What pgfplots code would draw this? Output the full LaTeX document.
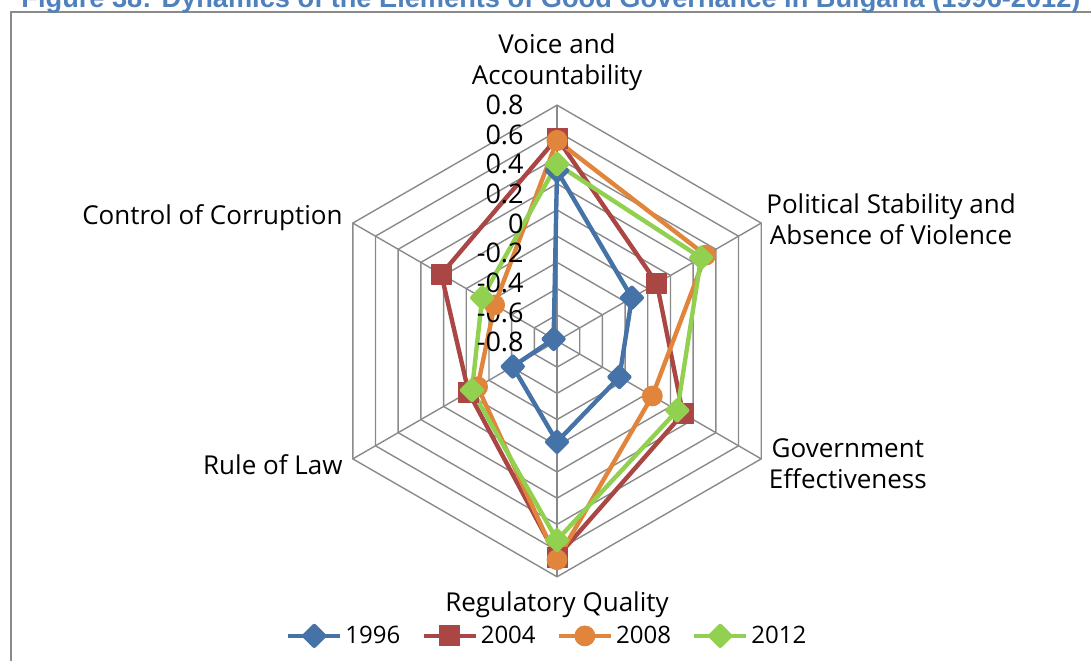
\documentclass[border=0pt]{standalone}
\usepackage{fontspec}
\usepackage{pgfplots}
\usepackage{pgfplotstable}
\pgfplotsset{compat=1.18}
\setmainfont{Open Sans}
\newfontfamily\titlefont{Liberation Sans}

\definecolor{cBlue}{HTML}{4572A7}
\definecolor{cRed}{HTML}{AA4643}
\definecolor{cOrange}{HTML}{E0853B}
\definecolor{cGreen}{HTML}{92D050}
\definecolor{gridc}{HTML}{8A8A8A}
\definecolor{titleblue}{HTML}{4F81BD}

\tikzset{
  ticklab/.style={anchor=east, inner sep=0pt, font=\fontsize{13.5}{15}\selectfont},
  catlab/.style={inner sep=0pt, align=center, font=\fontsize{13}{15.5}\selectfont},
}

% spoke angle (deg) and score; first row repeated to close the polygon
% order: Voice, Political Stability, Gov. Effectiveness, Regulatory, Rule of Law, Corruption
\pgfplotstableread{
a v
90 0.30
30 -0.34
-30 -0.45
-90 -0.23
-150 -0.61
150 -0.97
90 0.30
}\tabA
\pgfplotstableread{
a v
90 0.55
30 -0.12
-30 0.11
-90 0.65
-150 -0.22
150 0.02
90 0.55
}\tabB
\pgfplotstableread{
a v
90 0.53
30 0.31
-30 -0.16
-90 0.67
-150 -0.30
150 -0.45
90 0.53
}\tabC
\pgfplotstableread{
a v
90 0.35
30 0.27
-30 0.06
-90 0.52
-150 -0.25
150 -0.34
90 0.35
}\tabD

\begin{document}
\begin{tikzpicture}
\useasboundingbox (0,0) rectangle (545.5pt,330.5pt);
\draw[gridc, line width=0.8pt] (5.5pt,0pt) -- (5.5pt,324.5pt) -- (545.5pt,324.5pt);
\node[anchor=base, text=titleblue, inner sep=0pt,
      font=\titlefont\bfseries\fontsize{13.6}{15}\selectfont] at (275.5pt,327pt)
  {Figure 38: Dynamics of the Elements of Good Governance in Bulgaria (1996-2012)};

\begin{axis}[
    at={(0pt,0pt)}, anchor=south west,
    x=65.5pt, y=65.5pt,
    xmin=-4.252, xmax=4.076,
    ymin=-2.443, ymax=2.603,
    hide axis,
    clip=false,
    every axis plot/.append style={line width=2.2pt, line join=round,
      mark options={solid, line width=0.4pt}},
    legend columns=4,
    legend style={draw=none, fill=none, at={(0.502,0.038)}, anchor=center,
      font=\fontsize{12}{14}\selectfont, inner sep=0pt,
      nodes={inner sep=1.5pt},
      /tikz/every even column/.append style={column sep=9pt}},
    legend image code/.code={
      \draw[mark repeat=2, mark phase=2] plot coordinates {(0pt,0pt) (13pt,0pt) (26pt,0pt)};
    },
  ]

  % hexagonal grid, rings for -0.8 ... 0.8 (radius = value + 1)
  \pgfplotsinvokeforeach{0.2,0.4,0.6,0.8,1.0,1.2,1.4,1.6,1.8}{
    \draw[gridc, line width=0.7pt]
      (axis cs:0,#1) -- (axis cs:{#1*cos(30)},{#1*sin(30)})
      -- (axis cs:{#1*cos(30)},{-#1*sin(30)}) -- (axis cs:0,-#1)
      -- (axis cs:{-#1*cos(30)},{-#1*sin(30)}) -- (axis cs:{-#1*cos(30)},{#1*sin(30)}) -- cycle;
  }
  \pgfplotsinvokeforeach{90,30,-30,-90,-150,150}{
    \draw[gridc, line width=0.7pt] (axis cs:0,0) -- (axis cs:{1.8*cos(#1)},{1.8*sin(#1)});
  }

  \addplot[cBlue, mark=square*, mark size=3.5pt, mark options={rotate=45}]
    table[x expr={(\thisrow{v}+1)*cos(\thisrow{a})}, y expr={(\thisrow{v}+1)*sin(\thisrow{a})}] {\tabA};
  \addlegendentry{1996}
  \addplot[cRed, mark=square*, mark size=5pt]
    table[x expr={(\thisrow{v}+1)*cos(\thisrow{a})}, y expr={(\thisrow{v}+1)*sin(\thisrow{a})}] {\tabB};
  \addlegendentry{2004}
  \addplot[cOrange, mark=*, mark size=5pt]
    table[x expr={(\thisrow{v}+1)*cos(\thisrow{a})}, y expr={(\thisrow{v}+1)*sin(\thisrow{a})}] {\tabC};
  \addlegendentry{2008}
  \addplot[cGreen, mark=square*, mark size=3.5pt, mark options={rotate=45}]
    table[x expr={(\thisrow{v}+1)*cos(\thisrow{a})}, y expr={(\thisrow{v}+1)*sin(\thisrow{a})}] {\tabD};
  \addlegendentry{2012}

  % radial scale labels (spread evenly down the top spoke, as in the original)
  \node[ticklab] at (axis cs:-0.252,1.800) {0.8};
  \node[ticklab] at (axis cs:-0.252,1.574) {0.6};
  \node[ticklab] at (axis cs:-0.252,1.348) {0.4};
  \node[ticklab] at (axis cs:-0.252,1.122) {0.2};
  \node[ticklab] at (axis cs:-0.252,0.896) {0};
  \node[ticklab] at (axis cs:-0.252,0.670) {-0.2};
  \node[ticklab] at (axis cs:-0.252,0.444) {-0.4};
  \node[ticklab] at (axis cs:-0.252,0.218) {-0.6};
  \node[ticklab] at (axis cs:-0.252,-0.008) {-0.8};

  % category labels
  \node[catlab] at (axis cs:0,2.126) {Voice and\\Accountability};
  \node[catlab] at (axis cs:2.55,0.931) {Political Stability and\\Absence of Violence};
  \node[catlab] at (axis cs:2.22,-0.939) {Government\\Effectiveness};
  \node[catlab] at (axis cs:0,-2.015) {Regulatory Quality};
  \node[catlab, anchor=east] at (axis cs:-1.634,-0.947) {Rule of Law};
  \node[catlab, anchor=east] at (axis cs:-1.634,0.939) {Control of Corruption};
\end{axis}
\end{tikzpicture}
\end{document}
